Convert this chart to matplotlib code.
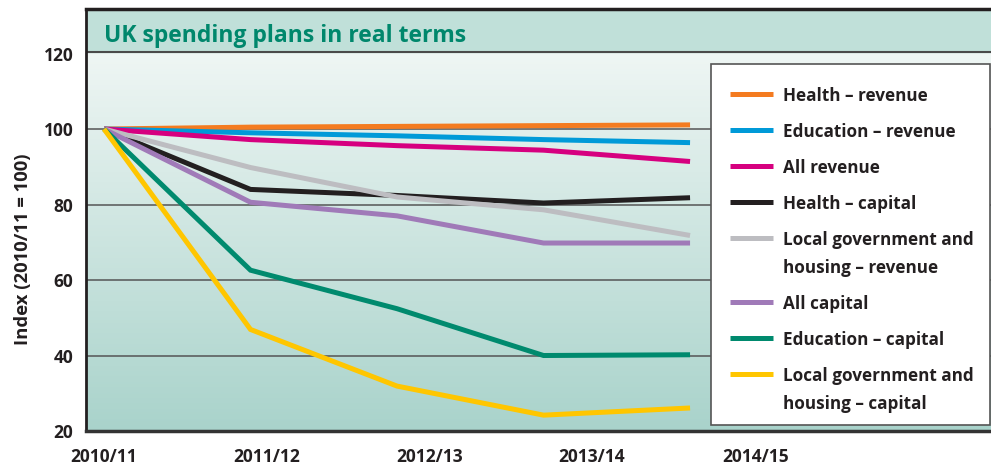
import numpy as np
import matplotlib.pyplot as plt
from matplotlib.colors import LinearSegmentedColormap
from matplotlib.patches import Rectangle

plt.rcParams['font.family'] = ['Open Sans', 'DejaVu Sans']

years = ['2010/11', '2011/12', '2012/13', '2013/14', '2014/15']
x = [0, 1, 2, 3, 4]
# tick labels in the original sit a little to the right of the data points
tick_pos = [0.0, 1.11, 2.22, 3.33, 4.45]

labels = ['Health – revenue', 'Education – revenue', 'All revenue', 'Health – capital',
          'Local government and\nhousing – revenue', 'All capital', 'Education – capital',
          'Local government and\nhousing – capital']
colors = ['#f47b20', '#009ad8', '#d6007f', '#231f20', '#bdbdc1', '#a07ab8', '#008a6e', '#ffc600']

health_rev = [100, 100.5, 100.7, 100.9, 101.1]
education_rev = [100, 99.0, 98.2, 97.2, 96.4]
all_rev = [100, 97.2, 95.6, 94.4, 91.4]
health_cap = [100, 84.0, 82.4, 80.4, 81.8]
localgov_rev = [100, 89.8, 82.0, 78.6, 71.8]
all_cap = [100, 80.6, 77.0, 69.8, 69.8]
education_cap = [100, 62.6, 52.4, 40.0, 40.2]
localgov_cap = [100, 46.9, 31.9, 24.2, 26.1]
series = [health_rev, education_rev, all_rev, health_cap,
          localgov_rev, all_cap, education_cap, localgov_cap]

ymin, ymax = 20, 131.8
xmin, xmax = -0.123, 6.1
band = 120.3

fig = plt.figure(figsize=(9.91, 4.66), dpi=100)
ax = fig.add_axes([86 / 991, 35 / 466, 0.92, 422 / 466])

# background gradient and title band
cmap = LinearSegmentedColormap.from_list('bg', ['#eff6f4', '#a9d3cb'])
grad = np.linspace(0, 1, 256).reshape(-1, 1)
ax.imshow(grad, cmap=cmap, aspect='auto', extent=[xmin, xmax, 20, band], zorder=0)
ax.axhspan(band, ymax, color='#c0e0d9', zorder=0)
ax.axhline(band, color='#4a4a4a', lw=1.5, zorder=1)

for g in [40, 60, 80, 100]:
    ax.axhline(g, color='#555555', lw=1.1, zorder=1)

for vals, lab, c in zip(series, labels, colors):
    ax.plot(x, vals, color=c, lw=3.6, label=lab, zorder=3,
            solid_capstyle='butt', solid_joinstyle='miter')

ax.set_xlim(xmin, xmax)
ax.set_ylim(ymin, ymax)
ax.set_yticks([20, 40, 60, 80, 100, 120])
ax.set_xticks(tick_pos)
ax.set_xticklabels(years)
ax.tick_params(length=0, labelsize=12.5, colors='#231f20')
ax.tick_params(axis='y', pad=9)
ax.tick_params(axis='x', pad=12)
for t in ax.get_xticklabels() + ax.get_yticklabels():
    t.set_fontweight('bold')
ax.set_ylabel('Index (2010/11 = 100)', fontsize=13.3, fontweight='bold', color='#231f20')
ax.yaxis.set_label_coords(-0.0597, 0.431)

ax.spines['right'].set_visible(False)
ax.spines['left'].set_linewidth(2)
ax.spines['left'].set_color('#231f20')
ax.spines['bottom'].set_linewidth(2.5)
ax.spines['bottom'].set_color('#333333')
ax.spines['top'].set_linewidth(2.5)
ax.spines['top'].set_color('#231f20')

ax.text(0.0, 123.0, 'UK spending plans in real terms', ha='left', va='baseline',
        fontsize=16.5, fontweight='bold', color='#00876c', zorder=4)

# legend drawn by hand: swatch sits level with the first line of a two-line label
box = Rectangle((0.686, 0.014), 0.306, 0.856, transform=ax.transAxes,
                facecolor='white', edgecolor='#555555', lw=1.2, zorder=5)
ax.add_patch(box)
hx0, hx1, tx = 0.706, 0.7536, 0.7646
row = 94          # pixel row of the first entry
step, line_gap = 36, 28
for lab, c in zip(labels, colors):
    ya = (431 - row) / 422
    ax.plot([hx0, hx1], [ya, ya], transform=ax.transAxes, color=c, lw=3.6,
            solid_capstyle='butt', zorder=6, clip_on=False)
    parts = lab.split('\n')
    for i, part in enumerate(parts):
        ax.text(tx, (431 - row - line_gap * i) / 422, part, transform=ax.transAxes,
                ha='left', va='center_baseline', fontsize=12.3, fontweight='bold',
                color='#231f20', zorder=6)
    row += step + line_gap * (len(parts) - 1)

fig.savefig('out.png', dpi=100)
